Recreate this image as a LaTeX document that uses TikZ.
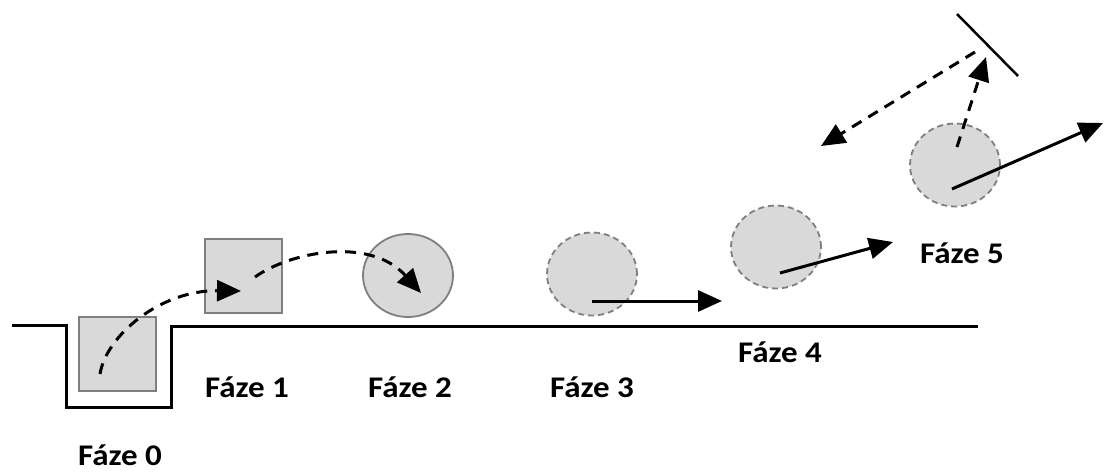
\documentclass[tikz,border=0pt]{standalone}
\usepackage{fontspec}
\setmainfont{Carlito}
\newfontfamily\phasefont[FakeStretch=1.1]{Carlito}
\usetikzlibrary{arrows.meta,shapes.geometric,calc}
\definecolor{bodyfill}{HTML}{D9D9D9}
\definecolor{bodyline}{HTML}{7F7F7F}
\tikzset{
  ground/.style={line width=3pt, line join=miter},
  block/.style={draw=bodyline, fill=bodyfill, line width=2pt, minimum width=77pt, minimum height=74pt, inner sep=0pt},
  ball/.style={ellipse, fill=bodyfill, draw=bodyline, line width=1.8pt, minimum width=90pt, minimum height=83pt, inner sep=0pt},
  ghostball/.style={ball, dash pattern=on 6pt off 4pt},
  motion/.style={line width=3pt, -{Triangle[length=24pt,width=21pt]}},
  path track/.style={motion, dash pattern=on 11pt off 8pt},
  label/.style={font=\phasefont\fontsize{30}{36}\selectfont\bfseries, inner sep=0pt, anchor=base},
}
\begin{document}
\begin{tikzpicture}[x=1pt,y=-1pt]
\useasboundingbox (0,0) rectangle (1104,472);

% ground with the pit
\draw[ground] (12,325) -- (66,325) -- (66,407) -- (171,407) -- (171,326) -- (978,326);

% bodies in the successive phases
\node[block] (b0) at (117,354) {};
\node[block] (b1) at (243.5,276) {};
\node[ball] (c2) at (408,275.5) {};
\node[ghostball] (c3) at (592,274) {};
\node[ghostball] (c4) at (776,247) {};
\node[ghostball] (c5) at (955,165) {};

% trajectory from the pit to the ball
\coordinate (t0) at (100,374);
\coordinate (t1) at (241,291);
\coordinate (t2) at (255,277);
\coordinate (t3) at (421,293);
\draw[path track] (t0) .. controls (106,336) and (160,290) .. (t1);
\draw[path track] (t2) .. controls (290,252) and (370,236) .. (t3);

% motion vectors
\coordinate (v3) at (722,301);
\coordinate (v4) at (893,242);
\coordinate (v5) at (1103,123);
\draw[motion] ($(c3.center)+(0,27)$) -- (v3);
\draw[motion] ($(c4.center)+(4,26)$) -- (v4);
\draw[motion] ($(c5.center)+(-3,24)$) -- (v5);

% reflecting wall and the reflected path
\coordinate (m1) at (957,14);
\coordinate (m2) at (1018,76);
\draw[line width=2.5pt] (m1) -- (m2);
\coordinate (r0) at (986,57);
\coordinate (r1) at (975,52);
\coordinate (r2) at (821,146);
\draw[path track] ($(c5.center)+(2,-18)$) -- (r0);
\draw[path track] (r1) -- (r2);

% phase labels
\node[label] (f0) at (120,465) {Fáze 0};
\node[label] (f1) at (247,397) {Fáze 1};
\node[label] (f2) at (410,397) {Fáze 2};
\node[label] (f3) at (592,397) {Fáze 3};
\node[label] (f4) at (780,362) {Fáze 4};
\node[label] (f5) at (962,263) {Fáze 5};
\end{tikzpicture}
\end{document}
